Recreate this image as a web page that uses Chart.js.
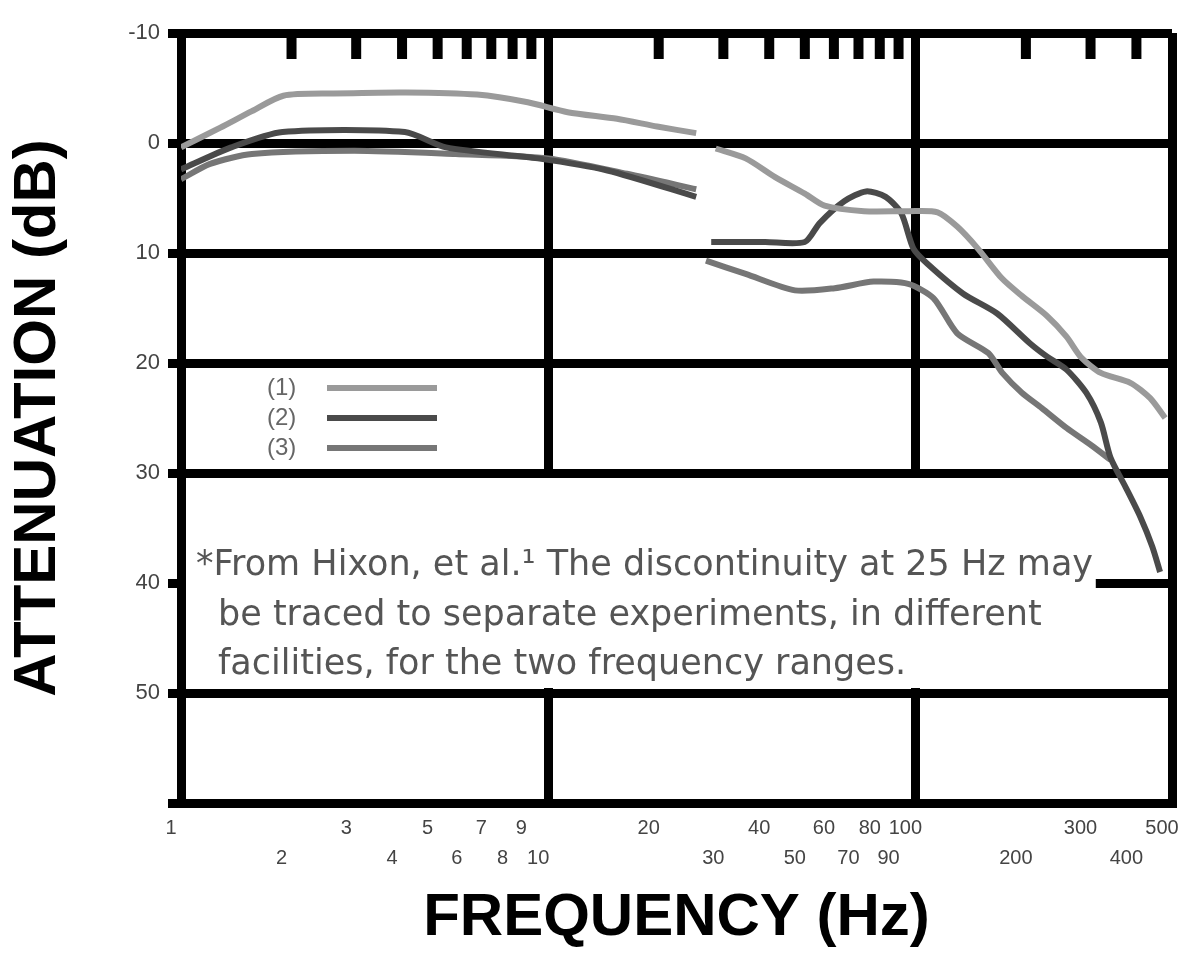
<!DOCTYPE html>
<html>
<head>
<meta charset="utf-8">
<script src="https://cdn.jsdelivr.net/npm/chart.js@4/dist/chart.umd.min.js"></script>
<style>
  html, body { margin: 0; padding: 0; background: #fff; }
  #wrap { width: 1183px; height: 968px; }
</style>
</head>
<body>
<div id="wrap"><canvas id="chart" width="1183" height="968"></canvas></div>
<script>
// ===== Axes =====
const tickFreqs = [1, 2, 3, 4, 5, 6, 7, 8, 9, 10, 20, 30, 40, 50, 60, 70, 80, 90, 100, 200, 300, 400, 500];
const upperRowTicks = [1, 3, 5, 7, 9, 20, 40, 60, 80, 100, 300, 500];
const majorFreqs = [1, 10, 100, 500];
const minorFreqs = [2, 3, 4, 5, 6, 7, 8, 9, 20, 30, 40, 50, 60, 70, 80, 90, 200, 300, 400];
const attenTicks = [-10, 0, 10, 20, 30, 40, 50, 60];
const gapFreq = 26; // break between the two experiments

// ===== Series (low-range run, then high-range run) =====
const seriesLabels = ['(1)', '(2)', '(3)'];
const seriesColors = ['#9a9a9a', '#4a4a4a', '#767676'];

const s1LowFreq = [1, 1.28, 1.56, 1.9, 2.6, 4.1, 6.4, 8.8, 11.3, 15.4, 19.8, 25.3];
const s1LowAtten = [0.4, -1.4, -2.9, -4.3, -4.5, -4.6, -4.4, -3.7, -2.8, -2.2, -1.5, -0.9];
const s1HighFreq = [28.6, 34.5, 41.5, 50, 56.6, 72.5, 95.6, 115, 130, 148, 172, 195, 228, 258, 283, 320, 385, 436, 479];
const s1HighAtten = [0.5, 1.4, 3.1, 4.6, 5.7, 6.2, 6.2, 6.3, 7.6, 9.6, 12.3, 13.9, 15.7, 17.6, 19.5, 20.9, 21.8, 23.2, 25.0];

const s2LowFreq = [1, 1.37, 1.89, 4.07, 5.27, 9.38, 14.5, 25.3];
const s2LowAtten = [2.4, 0.4, -1.0, -1.0, 0.4, 1.4, 2.5, 4.9];
const s2HighFreq = [27.8, 39, 50, 54.8, 64, 73.4, 83, 91.6, 98.8, 108, 135, 167, 205, 228, 258, 292, 320, 340, 374, 410, 442, 464];
const s2HighAtten = [9.0, 9.0, 9.0, 7.3, 5.3, 4.4, 4.9, 6.4, 9.6, 11.0, 13.7, 15.5, 18.2, 19.4, 20.6, 22.7, 25.4, 28.6, 31.3, 34.0, 36.7, 39.0];

const s3LowFreq = [1, 1.2, 1.56, 2.96, 5.6, 10, 16.4, 25.3];
const s3LowAtten = [3.3, 1.9, 1.0, 0.7, 1.0, 1.4, 2.8, 4.2];
const s3HighFreq = [26.9, 34.5, 47, 60.3, 77, 95.6, 112, 130, 158, 172.5, 195, 221, 258, 302, 340];
const s3HighAtten = [10.7, 11.9, 13.4, 13.2, 12.6, 12.8, 14.1, 17.3, 19.1, 20.9, 22.7, 24.1, 25.9, 27.5, 28.8];

const noteLines = [
  '*From Hixon, et al.\u00B9 The discontinuity at 25 Hz may',
  'be traced to separate experiments, in different',
  'facilities, for the two frequency ranges.'
];

// ===== Helpers =====
function toPoints(lowF, lowA, highF, highA) {
  const pts = lowF.map((f, i) => ({ x: f, y: lowA[i] }));
  pts.push({ x: gapFreq, y: null });
  highF.forEach((f, i) => pts.push({ x: f, y: highA[i] }));
  return pts;
}

const seriesData = [
  toPoints(s1LowFreq, s1LowAtten, s1HighFreq, s1HighAtten),
  toPoints(s2LowFreq, s2LowAtten, s2HighFreq, s2HighAtten),
  toPoints(s3LowFreq, s3LowAtten, s3HighFreq, s3HighAtten)
];

const datasets = seriesData.map((pts, i) => ({
  label: seriesLabels[i],
  data: pts,
  borderColor: seriesColors[i],
  backgroundColor: seriesColors[i],
  borderWidth: 6,
  pointRadius: 0,
  tension: 0.25,
  spanGaps: false,
  fill: false
}));

// ===== Plugins =====
// white note box over the grid + small minor ticks along the top edge
const noteBox = {
  id: 'noteBox',
  beforeDatasetsDraw(chart) {
    const { ctx, chartArea, scales } = chart;
    const xs = scales.x, ys = scales.y;

    ctx.save();
    ctx.fillStyle = '#000';
    minorFreqs.forEach(f => {
      const px = xs.getPixelForValue(f);
      ctx.fillRect(px - 5, chartArea.top, 10, 26);
    });

    const boxTop = ys.getPixelForValue(30) + 5;
    const boxBottom = ys.getPixelForValue(50) - 5;
    const boxLeft = chartArea.left + 5;
    const boxRight = xs.getPixelForValue(310);
    ctx.fillStyle = '#fff';
    ctx.fillRect(boxLeft, boxTop, boxRight - boxLeft, boxBottom - boxTop);

    ctx.fillStyle = '#555';
    ctx.font = '35px "DejaVu Sans", sans-serif';
    ctx.textBaseline = 'middle';
    ctx.textAlign = 'left';
    ctx.fillText(noteLines[0], chartArea.left + 15, boxTop + 88);
    ctx.fillText(noteLines[1], chartArea.left + 37, boxTop + 138);
    ctx.fillText(noteLines[2], chartArea.left + 37, boxTop + 187);
    ctx.restore();
  }
};

const innerLegend = {
  id: 'innerLegend',
  afterDatasetsDraw(chart) {
    const { ctx, chartArea } = chart;
    ctx.save();
    ctx.font = '24px "Liberation Sans", Arial, sans-serif';
    ctx.textBaseline = 'middle';
    chart.data.datasets.forEach((ds, i) => {
      const y = chartArea.top + 355 + i * 30;
      ctx.fillStyle = '#666';
      ctx.fillText(ds.label, chartArea.left + 86, y);
      ctx.strokeStyle = ds.borderColor;
      ctx.lineWidth = ds.borderWidth;
      ctx.beginPath();
      ctx.moveTo(chartArea.left + 146, y);
      ctx.lineTo(chartArea.left + 256, y);
      ctx.stroke();
    });
    ctx.restore();
  }
};

// ===== Chart =====
const ctx = document.getElementById('chart').getContext('2d');
new Chart(ctx, {
  type: 'line',
  data: { datasets },
  plugins: [noteBox, innerLegend],
  options: {
    responsive: false,
    devicePixelRatio: 1,
    animation: false,
    layout: { padding: { top: 33, right: 11, bottom: 0, left: 0 } },
    plugins: {
      legend: { display: false },
      tooltip: { enabled: false }
    },
    scales: {
      x: {
        type: 'logarithmic',
        min: 1,
        max: 500,
        afterBuildTicks: s => { s.ticks = tickFreqs.map(v => ({ value: v })); },
        afterFit: s => { s.height = 165; s.paddingLeft = 0; s.paddingRight = 0; },
        ticks: {
          autoSkip: false,
          maxRotation: 0,
          minRotation: 0,
          padding: 10,
          labelOffset: -10,
          color: '#444',
          font: { family: 'Liberation Sans', size: 20, lineHeight: 1.5 },
          callback: v => upperRowTicks.includes(v) ? [String(v), ''] : ['', String(v)]
        },
        grid: {
          drawTicks: false,
          color: c => majorFreqs.includes(c.tick && c.tick.value) ? '#000' : 'rgba(0,0,0,0)',
          lineWidth: c => majorFreqs.includes(c.tick && c.tick.value) ? 9 : 0
        },
        border: { display: true, color: '#000', width: 9 },
        title: {
          display: true,
          text: 'FREQUENCY (Hz)',
          color: '#000',
          font: { family: 'Liberation Sans', size: 60, weight: 'bold' },
          padding: { top: 0, bottom: 14 }
        }
      },
      y: {
        reverse: true,
        min: -10,
        max: 60,
        afterBuildTicks: s => { s.ticks = attenTicks.map(v => ({ value: v })); },
        afterFit: s => { s.width = 181; s.paddingTop = 0; s.paddingBottom = 0; },
        ticks: {
          padding: 8,
          color: '#444',
          font: { family: 'Liberation Sans', size: 22 },
          callback: v => v === 60 ? '' : String(v)
        },
        grid: { color: '#000', lineWidth: 9, tickLength: 13 },
        border: { display: true, color: '#000', width: 9 },
        title: {
          display: true,
          text: 'ATTENUATION (dB)',
          color: '#000',
          font: { family: 'Liberation Sans', size: 60, weight: 'bold' },
          padding: { top: 2, bottom: 0 }
        }
      }
    }
  }
});
</script>
</body>
</html>
